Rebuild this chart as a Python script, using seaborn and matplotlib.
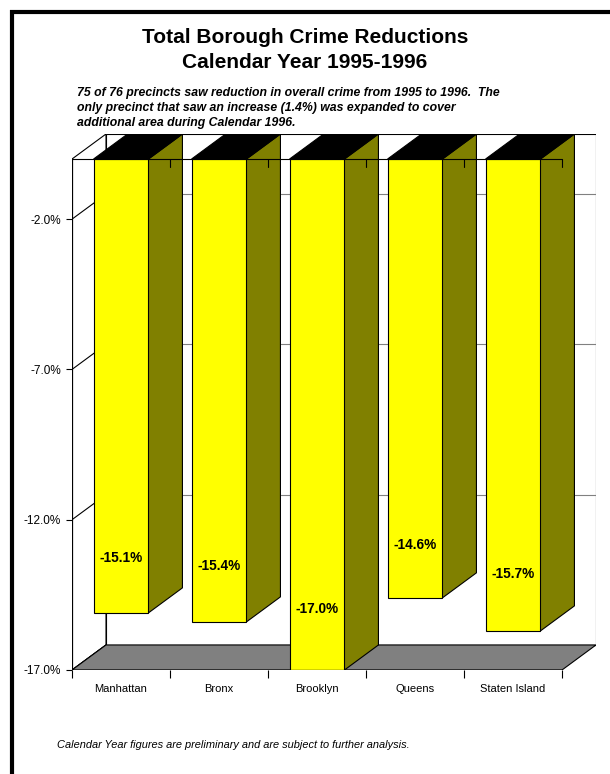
import numpy as np
import pandas as pd
import matplotlib
matplotlib.use('Agg')
import matplotlib.pyplot as plt
from matplotlib.patches import Polygon, Rectangle
from matplotlib.lines import Line2D
import seaborn as sns

# data
boroughs = ['Manhattan', 'Bronx', 'Brooklyn', 'Queens', 'Staten Island']
change = [-15.1, -15.4, -17.0, -14.6, -15.7]
ytick_vals = [-2.0, -7.0, -12.0, -17.0]

title = 'Total Borough Crime Reductions\nCalendar Year 1995-1996'
subtitle = ('75 of 76 precincts saw reduction in overall crime from 1995 to 1996.  The\n'
            'only precinct that saw an increase (1.4%) was expanded to cover\n'
            'additional area during Calendar 1996.')
footnote = 'Calendar Year figures are preliminary and are subject to further analysis.'

df = pd.DataFrame({'borough': boroughs, 'change': change})

sns.set_theme(style='white')
plt.rcParams['font.family'] = ['Liberation Sans', 'DejaVu Sans']
plt.rcParams['text.color'] = 'black'
plt.rcParams['xtick.color'] = 'black'
plt.rcParams['ytick.color'] = 'black'
plt.rcParams['axes.labelcolor'] = 'black'

W, H = 610, 774
fig = plt.figure(figsize=(W / 100, H / 100), dpi=100)
ax = fig.add_axes([72 / W, 1 - 670 / H, 524 / W, 536 / H])
ax.set_facecolor('none')

# pseudo-3D depth in data units
dx, dy = 0.347, 0.833
bw = 0.56
n = len(boroughs)
floor = -17.0
left, right = -0.5, n - 0.5

sns.barplot(data=df, x='borough', y='change', color='#FFFF00', saturation=1,
            width=bw, edgecolor='black', linewidth=0.8, ax=ax, zorder=5)

# back wall
ax.add_patch(Rectangle((left + dx, floor + dy), right - left, -floor,
                       facecolor='white', edgecolor='black', lw=0.8, zorder=0))
for t in ytick_vals[:-1]:
    ax.plot([left + dx, right + dx], [t + dy, t + dy], color='#808080', lw=0.8, zorder=0.5)
# left wall
ax.add_patch(Polygon([(left, 0), (left + dx, dy), (left + dx, floor + dy), (left, floor)],
                     facecolor='white', edgecolor='black', lw=0.8, zorder=1))
for t in ytick_vals:
    ax.plot([left, left + dx], [t, t + dy], color='black', lw=0.8, zorder=1.2)
# floor
ax.add_patch(Polygon([(left, floor), (right, floor), (right + dx, floor + dy), (left + dx, floor + dy)],
                     facecolor='#808080', edgecolor='black', lw=0.8, zorder=2))

# side and top faces of bars
for i, v in enumerate(change):
    x0, x1 = i - bw / 2, i + bw / 2
    ax.add_patch(Polygon([(x1, 0), (x1 + dx, dy), (x1 + dx, v + dy), (x1, v)],
                         facecolor='#808000', edgecolor='black', lw=0.8, zorder=4))
    ax.add_patch(Polygon([(x0, 0), (x1, 0), (x1 + dx, dy), (x0 + dx, dy)],
                         facecolor='black', edgecolor='black', lw=0.8, zorder=4))
    ax.text(i, v * 0.88, f'{v:.1f}%', ha='center', va='center',
            fontsize=9.8, fontweight='bold', color='black', zorder=7)

# front frame lines
ax.plot([left, left], [0, floor], color='black', lw=0.9, zorder=6)
ax.plot([left, right], [floor, floor], color='black', lw=0.9, zorder=6)
ax.plot([left, right], [0, 0], color='black', lw=0.8, zorder=6)
for b in np.arange(left + 1, right + 0.01, 1.0):
    ax.plot([b, b], [0, -0.27], color='black', lw=0.8, zorder=6)

ax.set_xlim(left, right + dx)
ax.set_ylim(floor, dy)
for s in ax.spines.values():
    s.set_visible(False)

ax.set_yticks(ytick_vals)
ax.set_yticklabels([f'{t:.1f}%' for t in ytick_vals], fontsize=8.5)
ax.tick_params(axis='y', direction='out', length=4.3, width=0.8, pad=3.5, color='black', left=True)
ax.set_xticks(range(n))
ax.set_xticklabels(boroughs, fontsize=8)
ax.set_xticks(np.arange(left, right + 0.01, 1.0), minor=True)
ax.tick_params(axis='x', which='major', length=0, pad=10)
ax.tick_params(axis='x', which='minor', direction='out', length=6, width=0.8, color='black', bottom=True)
ax.set_xlabel('')
ax.set_ylabel('')

# texts
fig.text(0.5, 1 - 50 / H, title, ha='center', va='center', fontsize=15,
         fontweight='bold', linespacing=1.45)
fig.text(77 / W, 1 - 108 / H, subtitle, ha='left', va='center', fontsize=8.8,
         fontweight='bold', style='italic', linespacing=1.3)
fig.text(57 / W, 1 - 745 / H, footnote, ha='left', va='center', fontsize=7.9, style='italic')

# page border (top and left)
fig.add_artist(Line2D([10 / W, 1], [1 - 12 / H, 1 - 12 / H], color='black', lw=3,
                      solid_capstyle='butt'))
fig.add_artist(Line2D([12 / W, 12 / W], [0, 1 - 10 / H], color='black', lw=3,
                      solid_capstyle='butt'))

fig.savefig('out.png', dpi=100)
